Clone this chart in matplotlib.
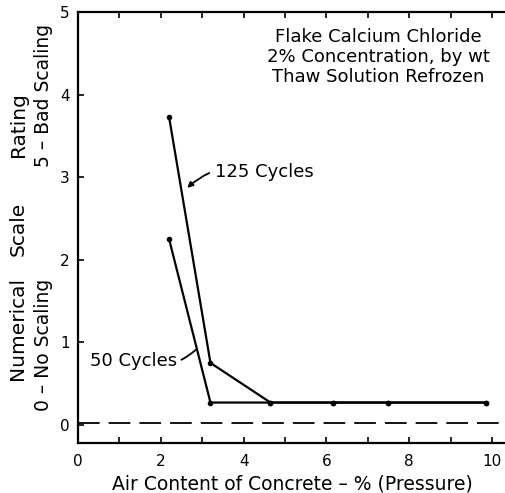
import matplotlib
matplotlib.use("Agg")
import matplotlib.pyplot as plt

# air content (%) and scaling rating
air_125 = [2.2, 3.2, 4.65, 6.15, 7.5, 9.85]
rating_125 = [3.73, 0.75, 0.27, 0.27, 0.27, 0.27]
air_50 = [2.2, 3.2, 4.65, 6.15, 7.5, 9.85]
rating_50 = [2.25, 0.27, 0.27, 0.27, 0.27, 0.27]

x_ticks = [0, 2, 4, 6, 8, 10]
y_ticks = [0, 1, 2, 3, 4, 5]

note_lines = ["Flake Calcium Chloride",
              "2% Concentration, by wt",
              "Thaw Solution Refrozen"]

W, H = 506, 493
fig = plt.figure(figsize=(W / 100, H / 100), dpi=100)
ax = fig.add_axes([78 / W, 1 - 443 / H, 1 - 78 / W, (443 - 12) / H])

ax.plot(air_125, rating_125, color="black", lw=1.6, marker="o", ms=3)
ax.plot(air_50, rating_50, color="black", lw=1.6, marker="o", ms=3)
ax.axhline(0.02, color="black", lw=1.3, dashes=(12, 5))

ax.set_xlim(0, 10.34)
ax.set_ylim(-0.22, 5)
ax.set_xticks(x_ticks)
ax.set_xticks(range(0, 11), minor=True)
ax.set_yticks(y_ticks)
ax.tick_params(which="both", direction="in", top=True, length=4, width=1.2,
               labelsize=11, pad=8)
ax.tick_params(axis="y", pad=6)
ax.spines["right"].set_visible(False)
for s in ["left", "bottom", "top"]:
    ax.spines[s].set_linewidth(1.6)

ax.set_xlabel("Air Content of Concrete \u2013 % (Pressure)", fontsize=13.5, labelpad=4)

# rotated y-axis label pieces
fig.text(18 / W, 1 - 328 / H, "Numerical", rotation=90, ha="center", va="center", fontsize=14.5)
fig.text(18 / W, 1 - 229 / H, "Scale", rotation=90, ha="center", va="center", fontsize=14.5)
fig.text(18 / W, 1 - 125 / H, "Rating", rotation=90, ha="center", va="center", fontsize=14.5)
fig.text(44 / W, 1 - 345 / H, "0 \u2013 No Scaling", rotation=90, ha="center", va="center", fontsize=13.5)
fig.text(44 / W, 1 - 95 / H, "5 \u2013 Bad Scaling", rotation=90, ha="center", va="center", fontsize=13.5)

for i, line in enumerate(note_lines):
    fig.text(378 / W, 1 - (37 + 20 * i) / H, line, ha="center", va="center", fontsize=13)

ax.annotate("125 Cycles", xy=(2.64, 2.87), xytext=(3.3, 3.06),
            fontsize=13, va="center", ha="left",
            arrowprops=dict(arrowstyle="-|>", color="black", lw=1.3,
                            connectionstyle="arc3,rad=0.3", shrinkA=2, shrinkB=0,
                            mutation_scale=8))
ax.annotate("50 Cycles", xy=(2.85, 0.91), xytext=(2.4, 0.77),
            fontsize=13, va="center", ha="right",
            arrowprops=dict(arrowstyle="-", color="black", lw=1.3,
                            connectionstyle="arc3,rad=0.3", shrinkA=1, shrinkB=0))

fig.savefig("out.png", dpi=100)
